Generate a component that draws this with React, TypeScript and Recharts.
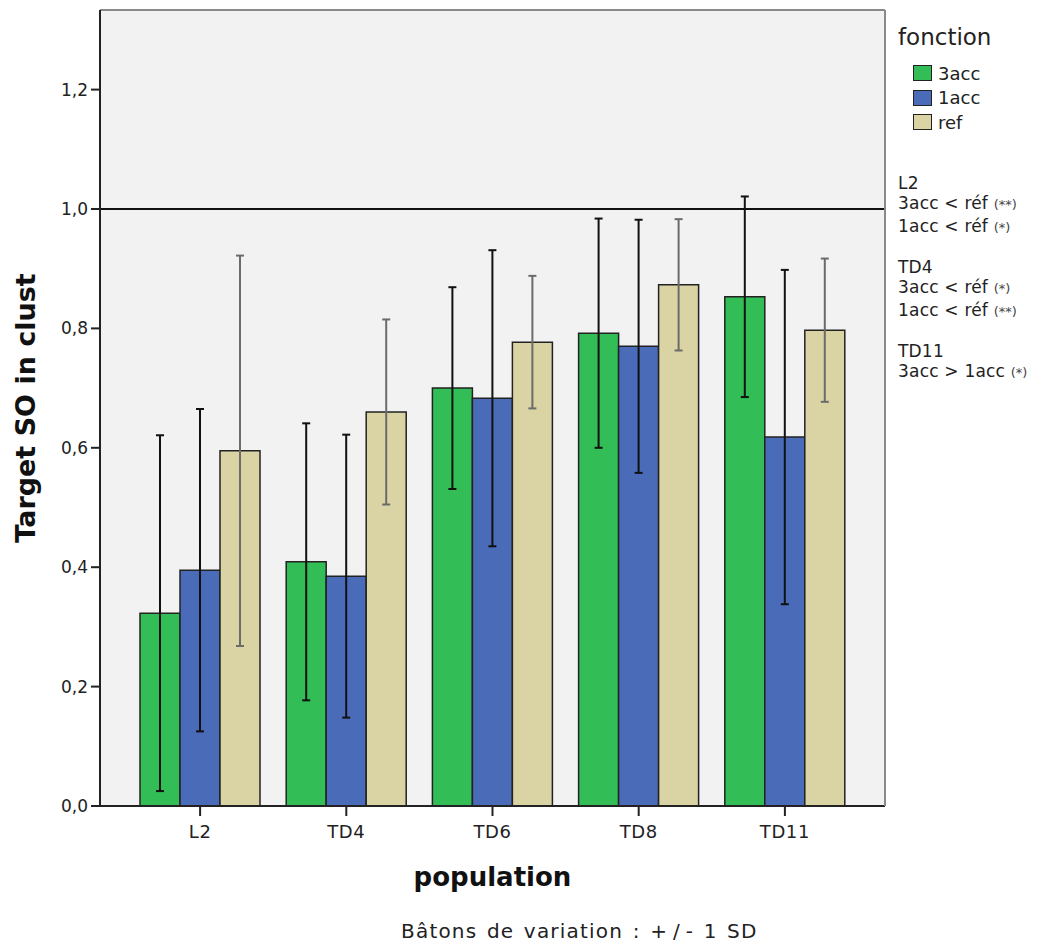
import React from 'react';
import {
  BarChart,
  Bar,
  ErrorBar,
  XAxis,
  YAxis,
  CartesianGrid,
  ReferenceLine,
} from 'recharts';

// populations on the x axis
const populations = ['L2', 'TD4', 'TD6', 'TD8', 'TD11'];

// mean values per fonction
const mean3acc = [0.323, 0.409, 0.700, 0.792, 0.853];
const mean1acc = [0.395, 0.385, 0.683, 0.770, 0.618];
const meanRef = [0.595, 0.660, 0.777, 0.873, 0.797];

// +/- 1 SD
const sd3acc = [0.298, 0.232, 0.169, 0.192, 0.168];
const sd1acc = [0.270, 0.237, 0.248, 0.212, 0.280];
const sdRef = [0.327, 0.155, 0.111, 0.110, 0.120];

const yTicks = [0, 0.2, 0.4, 0.6, 0.8, 1.0, 1.2];

const legendItems = [
  { name: '3acc', color: '#33bd57' },
  { name: '1acc', color: '#4a6bb8' },
  { name: 'ref', color: '#dad4a5' },
];

const notes = [
  ['L2', '3acc < réf (**)', '1acc < réf (*)'],
  ['TD4', '3acc < réf (*)', '1acc < réf (**)'],
  ['TD11', '3acc > 1acc (*)'],
];

// note: "ref" can't be a row key, it would end up as a React ref on the bar shape
const data = populations.map((p, i) => ({
  population: p,
  acc3: mean3acc[i],
  acc1: mean1acc[i],
  refMean: meanRef[i],
  sd3: sd3acc[i],
  sd1: sd1acc[i],
  sdRef: sdRef[i],
}));

const FONT = '"DejaVu Sans", Verdana, sans-serif';

const fmt = (v: number) => v.toFixed(1).replace('.', ',');

// small asterisks like the stats package prints them
const Note = ({ text }: { text: string }) => {
  const m = text.match(/^(.*)\((\*+)\)$/);
  if (!m) return <div>{text}</div>;
  return (
    <div>
      {m[1]}
      <span style={{ fontSize: 13, letterSpacing: 0, color: '#444' }}>({m[2]})</span>
    </div>
  );
};

const LegendBox = () => (
  <div style={{ position: 'absolute', left: 898, top: 22, fontFamily: FONT, color: '#222' }}>
    <div style={{ fontSize: 23, lineHeight: '30px', marginBottom: 9 }}>fonction</div>
    {legendItems.map((it) => (
      <div key={it.name} style={{ display: 'flex', alignItems: 'center', height: 24.5, marginLeft: 15 }}>
        <span
          style={{
            width: 19,
            height: 16,
            background: it.color,
            border: '1.5px solid #222',
            boxSizing: 'border-box',
            marginRight: 6,
          }}
        />
        <span style={{ fontSize: 18 }}>{it.name}</span>
      </div>
    ))}
    <div style={{ marginTop: 38, fontSize: 17, lineHeight: '20.5px', letterSpacing: 0.2 }}>
      {notes.map((block, i) => (
        <div key={i} style={{ marginBottom: 18.5 }}>
          {block.map((line) => (
            <Note key={line} text={line} />
          ))}
        </div>
      ))}
    </div>
  </div>
);

export default function App() {
  return (
    <div style={{ position: 'absolute', left: 0, top: 0, width: 1045, height: 946, background: '#fff' }}>
      <BarChart
        width={1045}
        height={946}
        data={data}
        margin={{ top: 9, right: 159, left: 0, bottom: 80 }}
        barSize={40}
        barGap={0}
      >
        <CartesianGrid fill="#f2f2f2" horizontal={false} vertical={false} />
        <XAxis
          dataKey="population"
          padding={{ left: 27, right: 27 }}
          height={60}
          tickSize={10}
          tickMargin={9}
          tick={{ fill: '#222', fontSize: 18, fontFamily: FONT, letterSpacing: 0.6 }}
          axisLine={{ stroke: '#222', strokeWidth: 2 }}
          tickLine={{ stroke: '#222', strokeWidth: 2 }}
          label={{
            value: 'population',
            position: 'bottom',
            offset: 2,
            style: { fontSize: 26, fontWeight: 'bold', fontFamily: FONT, fill: '#111' },
          }}
        />
        {/* top and right frame of the plot */}
        <XAxis xAxisId="top" orientation="top" dataKey="population" height={1} tick={false} tickLine={false}
          axisLine={{ stroke: '#8a8a8a', strokeWidth: 2 }} />
        <YAxis
          domain={[0, 4 / 3]}
          ticks={yTicks}
          width={100}
          tickSize={9}
          tickMargin={3}
          tickFormatter={fmt}
          allowDataOverflow
          tick={{ fill: '#222', fontSize: 17, fontFamily: FONT }}
          axisLine={{ stroke: '#222', strokeWidth: 2 }}
          tickLine={{ stroke: '#222', strokeWidth: 2 }}
          label={{
            value: 'Target SO in clust',
            angle: -90,
            position: 'insideLeft',
            offset: 25,
            style: { fontSize: 27, fontWeight: 'bold', fontFamily: FONT, fill: '#111', textAnchor: 'middle' },
          }}
        />
        <YAxis yAxisId="right" orientation="right" width={1} domain={[0, 1]} tick={false} tickLine={false}
          axisLine={{ stroke: '#8a8a8a', strokeWidth: 2 }} />
        <ReferenceLine y={1} stroke="#111" strokeWidth={2} />
        <Bar dataKey="acc3" name="3acc" fill="#33bd57" stroke="#222" strokeWidth={1.5} isAnimationActive={false}>
          <ErrorBar dataKey="sd3" width={4} stroke="#111" strokeWidth={2} direction="y" />
        </Bar>
        <Bar dataKey="acc1" name="1acc" fill="#4a6bb8" stroke="#222" strokeWidth={1.5} isAnimationActive={false}>
          <ErrorBar dataKey="sd1" width={4} stroke="#111" strokeWidth={2} direction="y" />
        </Bar>
        <Bar dataKey="refMean" name="ref" fill="#dad4a5" stroke="#222" strokeWidth={1.5} isAnimationActive={false}>
          <ErrorBar dataKey="sdRef" width={4} stroke="#6b6b6b" strokeWidth={2} direction="y" />
        </Bar>
      </BarChart>
      <LegendBox />
      <div
        style={{
          position: 'absolute',
          left: 401,
          top: 919,
          fontFamily: FONT,
          fontSize: 20,
          color: '#222',
          letterSpacing: 1.2,
          wordSpacing: 2,
          whiteSpace: 'nowrap',
        }}
      >
        Bâtons de variation : <span style={{ letterSpacing: 6 }}>+/</span>- 1 SD
      </div>
    </div>
  );
}
